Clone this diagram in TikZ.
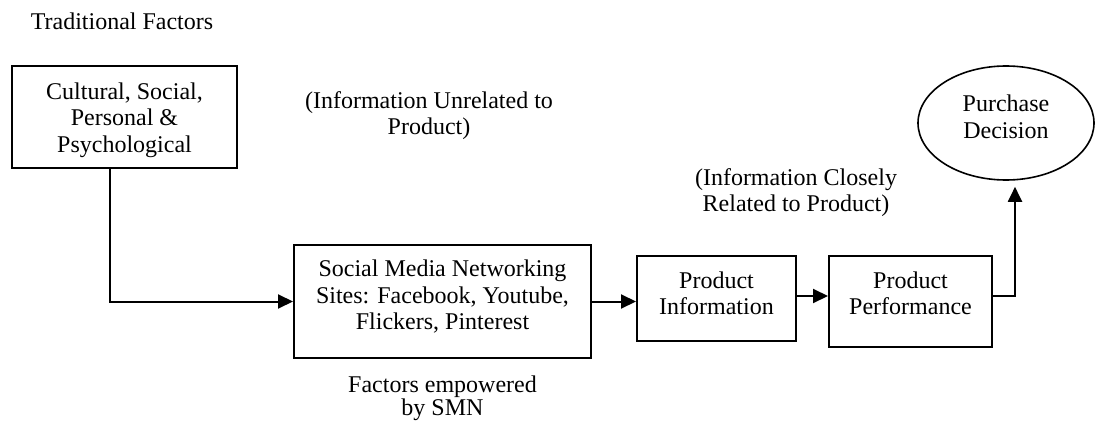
\documentclass[tikz,border=0pt]{standalone}
\usepackage{fontspec}
\setmainfont{Liberation Serif}
\usetikzlibrary{arrows.meta,shapes.geometric}
\newcommand\ml[2][0pt]{\raisebox{#1}[\height][\depth]{\begin{tabular}{@{}c@{}}#2\end{tabular}}}
\tikzset{
  box/.style={draw,line width=2pt,rectangle,inner sep=0pt,align=center},
  oval/.style={draw,line width=1.6pt,ellipse,inner sep=0pt,align=center},
  lbl/.style={inner sep=0pt,align=center},
  arr/.style={line width=2pt,-{Triangle[length=15pt,width=14pt]}},
  conn/.style={line width=2pt}
}
\begin{document}
\begin{tikzpicture}[x=1pt,y=-1pt,font=\fontsize{24}{26.5}\selectfont]
\useasboundingbox (0,0) rectangle (1096,423);

\node[lbl] (tf) at (122,23.7) {\ml{Traditional Factors}};
\node[box,minimum width=225pt,minimum height=102pt] (b1) at (124.5,117) {\ml[-3.6pt]{Cultural, Social,\\Personal \&\\Psychological}};
\node[lbl] (iu) at (429,116.2) {\ml{(Information Unrelated to\\Product)}};
\node[lbl] (ic) at (796,193.2) {\ml{(Information Closely\\Related to Product)}};
\node[oval,minimum width=176pt,minimum height=114pt] (pd) at (1006,123) {\ml[3.4pt]{Purchase\\Decision}};
\node[box,minimum width=297pt,minimum height=113pt] (b2) at (442.5,301.5) {\ml[3.4pt]{Social Media Networking\\Sites: Facebook, Youtube,\\Flickers, Pinterest}};
\node[box,minimum width=159pt,minimum height=85pt] (b3) at (716.5,298.5) {\ml[2.4pt]{Product\\Information}};
\node[box,minimum width=163pt,minimum height=91pt] (b4) at (910.5,301.5) {\ml[5.4pt]{Product\\Performance}};
\node[lbl,font=\fontsize{24}{23}\selectfont] (fe) at (442.5,398.9) {\ml{Factors empowered\\by SMN}};

\draw[arr] ([xshift=-14.5pt]b1.south) |- (b2.west);
\draw[arr] (b2.east) -- (b2.east -| b3.west);
\draw[arr] ([yshift=2.5pt]b3.east) -- ([yshift=2.5pt]b3.east -| b4.west);
\draw[arr,shorten >=6pt] ([yshift=5.5pt]b4.east) -| ([xshift=9pt]pd.south);
\end{tikzpicture}
\end{document}
